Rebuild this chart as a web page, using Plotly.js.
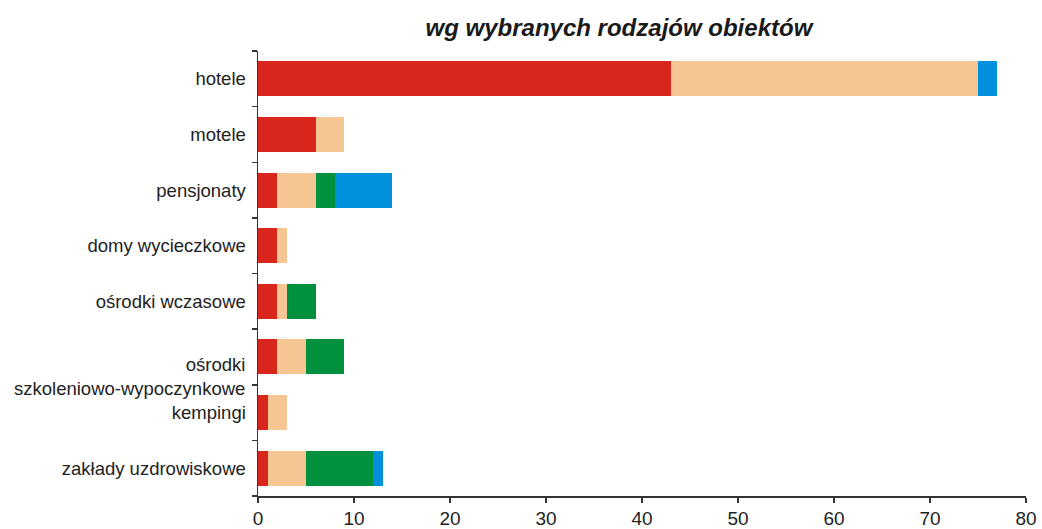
<!DOCTYPE html>
<html>
<head>
<meta charset="utf-8">
<script src="https://cdn.plot.ly/plotly-3.0.1.min.js"></script>
<style>html,body{margin:0;padding:0;background:#fff;}#chart{width:1042px;height:529px;}</style>
</head>
<body>
<div id="chart"></div>
<script>
const categories = ["hotele","motele","pensjonaty","domy wycieczkowe","ośrodki wczasowe","ośrodki szkoleniowo-wypoczynkowe","kempingi","zakłady uzdrowiskowe"];
const tickLabels = ["hotele","motele","pensjonaty","domy wycieczkowe","ośrodki wczasowe","","kempingi","zakłady uzdrowiskowe"];
const series1 = [43, 6, 2, 2, 2, 2, 1, 1];
const series2 = [32, 3, 4, 1, 1, 3, 2, 4];
const series3 = [0, 0, 2, 0, 3, 4, 0, 7];
const series4 = [2, 0, 6, 0, 0, 0, 0, 1];
const seriesNames = ["seria 1","seria 2","seria 3","seria 4"];
const colors = ["#D9261C","#F5C594","#00913F","#0090DC"];
const xTicks = [0,10,20,30,40,50,60,70,80];

const allSeries = [series1, series2, series3, series4];
const traces = allSeries.map((vals, i) => ({
  type: "bar",
  orientation: "h",
  name: seriesNames[i],
  y: categories,
  x: vals,
  marker: {color: colors[i], line: {width: 0}},
  hoverinfo: "x+y+name"
}));

const layout = {
  width: 1042, height: 529,
  margin: {l: 258, r: 16, t: 51, b: 33, pad: 0},
  paper_bgcolor: "#fff", plot_bgcolor: "#fff",
  barmode: "stack",
  bargap: 0.37,
  showlegend: false,
  font: {family: "Liberation Sans, Arial, sans-serif", color: "#222", size: 18.5},
  title: {
    text: "<b><i>wg wybranych rodzajów obiektów</i></b>",
    x: 0.594, xanchor: "center", y: 0.948, yanchor: "middle",
    font: {family: "Liberation Sans, Arial, sans-serif", size: 24, color: "#1a1a1a"}
  },
  xaxis: {
    range: [0, 80], tickvals: xTicks, ticktext: xTicks.map(String),
    showgrid: false, zeroline: false,
    showline: true, linecolor: "#333", linewidth: 1.5,
    ticks: "outside", ticklen: 5, tickcolor: "#333", tickwidth: 1.5,
    ticklabelstandoff: 0,
    tickfont: {size: 19, color: "#222"}, fixedrange: true
  },
  yaxis: {
    type: "category", autorange: "reversed",
    tickvals: categories, ticktext: tickLabels,
    tickson: "boundaries",
    showgrid: false, zeroline: false,
    showline: true, linecolor: "#333", linewidth: 1.5,
    ticks: "outside", ticklen: 5, tickcolor: "#333", tickwidth: 1.5,
    ticklabelstandoff: 7,
    tickfont: {size: 18.5, color: "#222"}, fixedrange: true
  },
  annotations: [{
    xref: "paper", yref: "y", x: 0, y: categories[5],
    text: "ośrodki<br>szkoleniowo-wypoczynkowe", showarrow: false,
    xanchor: "right", yanchor: "middle", align: "right", xshift: -11, yshift: -20,
    font: {size: 18.5, color: "#222"}
  }]
};

Plotly.newPlot("chart", traces, layout, {displayModeBar: false, staticPlot: true});
</script>
</body>
</html>
